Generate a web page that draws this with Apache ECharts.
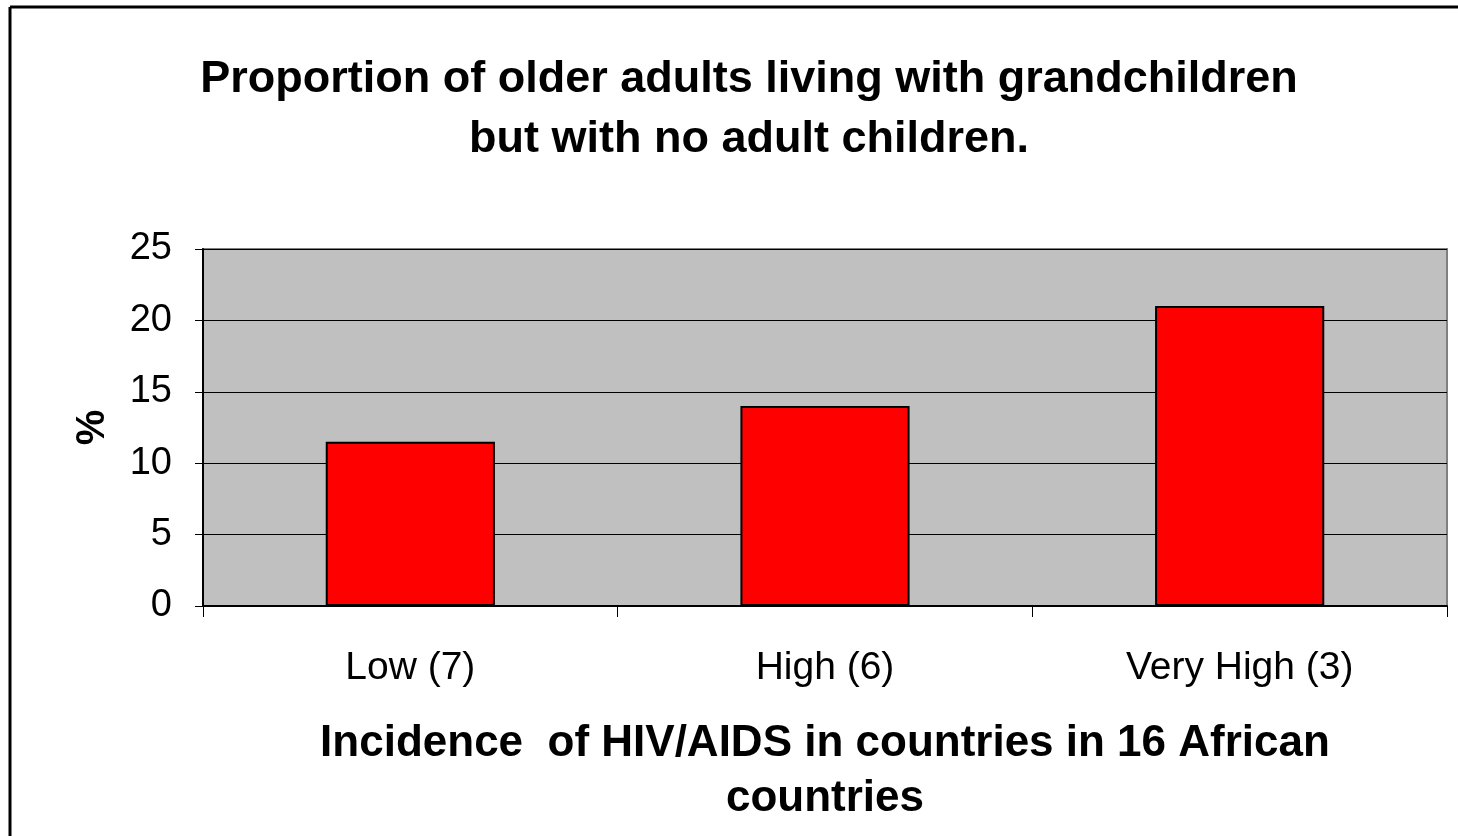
<!DOCTYPE html>
<html>
<head>
<meta charset="utf-8">
<script src="https://cdn.jsdelivr.net/npm/echarts@6/dist/echarts.min.js"></script>
<style>
html,body{margin:0;padding:0;background:#fff;}
#c{width:1458px;height:836px;}
</style>
</head>
<body>
<div id="c"></div>
<script>
const categories = ['Low (7)', 'High (6)', 'Very High (3)'];
const values = [11.5, 14, 21];
const yTicks = {min: 0, max: 25, interval: 5};
const titleText = 'Proportion of older adults living with grandchildren\nbut with no adult children.';
const xName = 'Incidence  of HIV/AIDS in countries in 16 African\ncountries';
const yName = '%';

const FONT = '"Liberation Sans", Arial, sans-serif';
const chart = echarts.init(document.getElementById('c'), null, {renderer: 'canvas'});
chart.setOption({
  backgroundColor: '#ffffff',
  animation: false,
  title: {
    text: titleText,
    left: 744,
    top: 45,
    textAlign: 'center',
    textStyle: {fontFamily: FONT, fontWeight: 'bold', fontSize: 45, lineHeight: 60, color: '#000'}
  },
  grid: {
    left: 203, top: 249, right: 11, bottom: 230,
    show: true, backgroundColor: '#c0c0c0', borderColor: '#808080', borderWidth: 2
  },
  xAxis: {
    type: 'category',
    data: categories,
    boundaryGap: true,
    axisLine: {show: true, lineStyle: {color: '#000', width: 2}},
    axisTick: {show: true, length: 11, lineStyle: {color: '#000', width: 1}},
    axisLabel: {fontFamily: FONT, fontSize: 39, color: '#000', margin: 43},
    name: xName,
    nameLocation: 'middle',
    nameGap: 110,
    nameTextStyle: {fontFamily: FONT, fontWeight: 'bold', fontSize: 44, lineHeight: 55, color: '#000', verticalAlign: 'top'}
  },
  yAxis: {
    type: 'value',
    min: yTicks.min, max: yTicks.max, interval: yTicks.interval,
    axisLine: {show: true, lineStyle: {color: '#000', width: 2}},
    axisTick: {show: true, length: 8, lineStyle: {color: '#000', width: 1}},
    axisLabel: {fontFamily: FONT, fontSize: 38, color: '#000', margin: 31},
    splitLine: {show: true, lineStyle: {color: '#000', width: 1}},
    name: yName,
    nameLocation: 'middle',
    nameGap: 90,
    nameRotate: 90,
    nameTextStyle: {fontFamily: FONT, fontWeight: 'bold', fontSize: 40, color: '#000'}
  },
  series: [{
    type: 'bar',
    data: values,
    barWidth: '40.8%',
    itemStyle: {color: '#ff0000', borderColor: '#000', borderWidth: 2}
  }],
  graphic: [
    {type: 'line', shape: {x1: 10, y1: 7, x2: 1458, y2: 7}, style: {stroke: '#000', lineWidth: 3}},
    {type: 'line', shape: {x1: 10, y1: 7, x2: 10, y2: 836}, style: {stroke: '#000', lineWidth: 3}}
  ]
});
</script>
</body>
</html>
